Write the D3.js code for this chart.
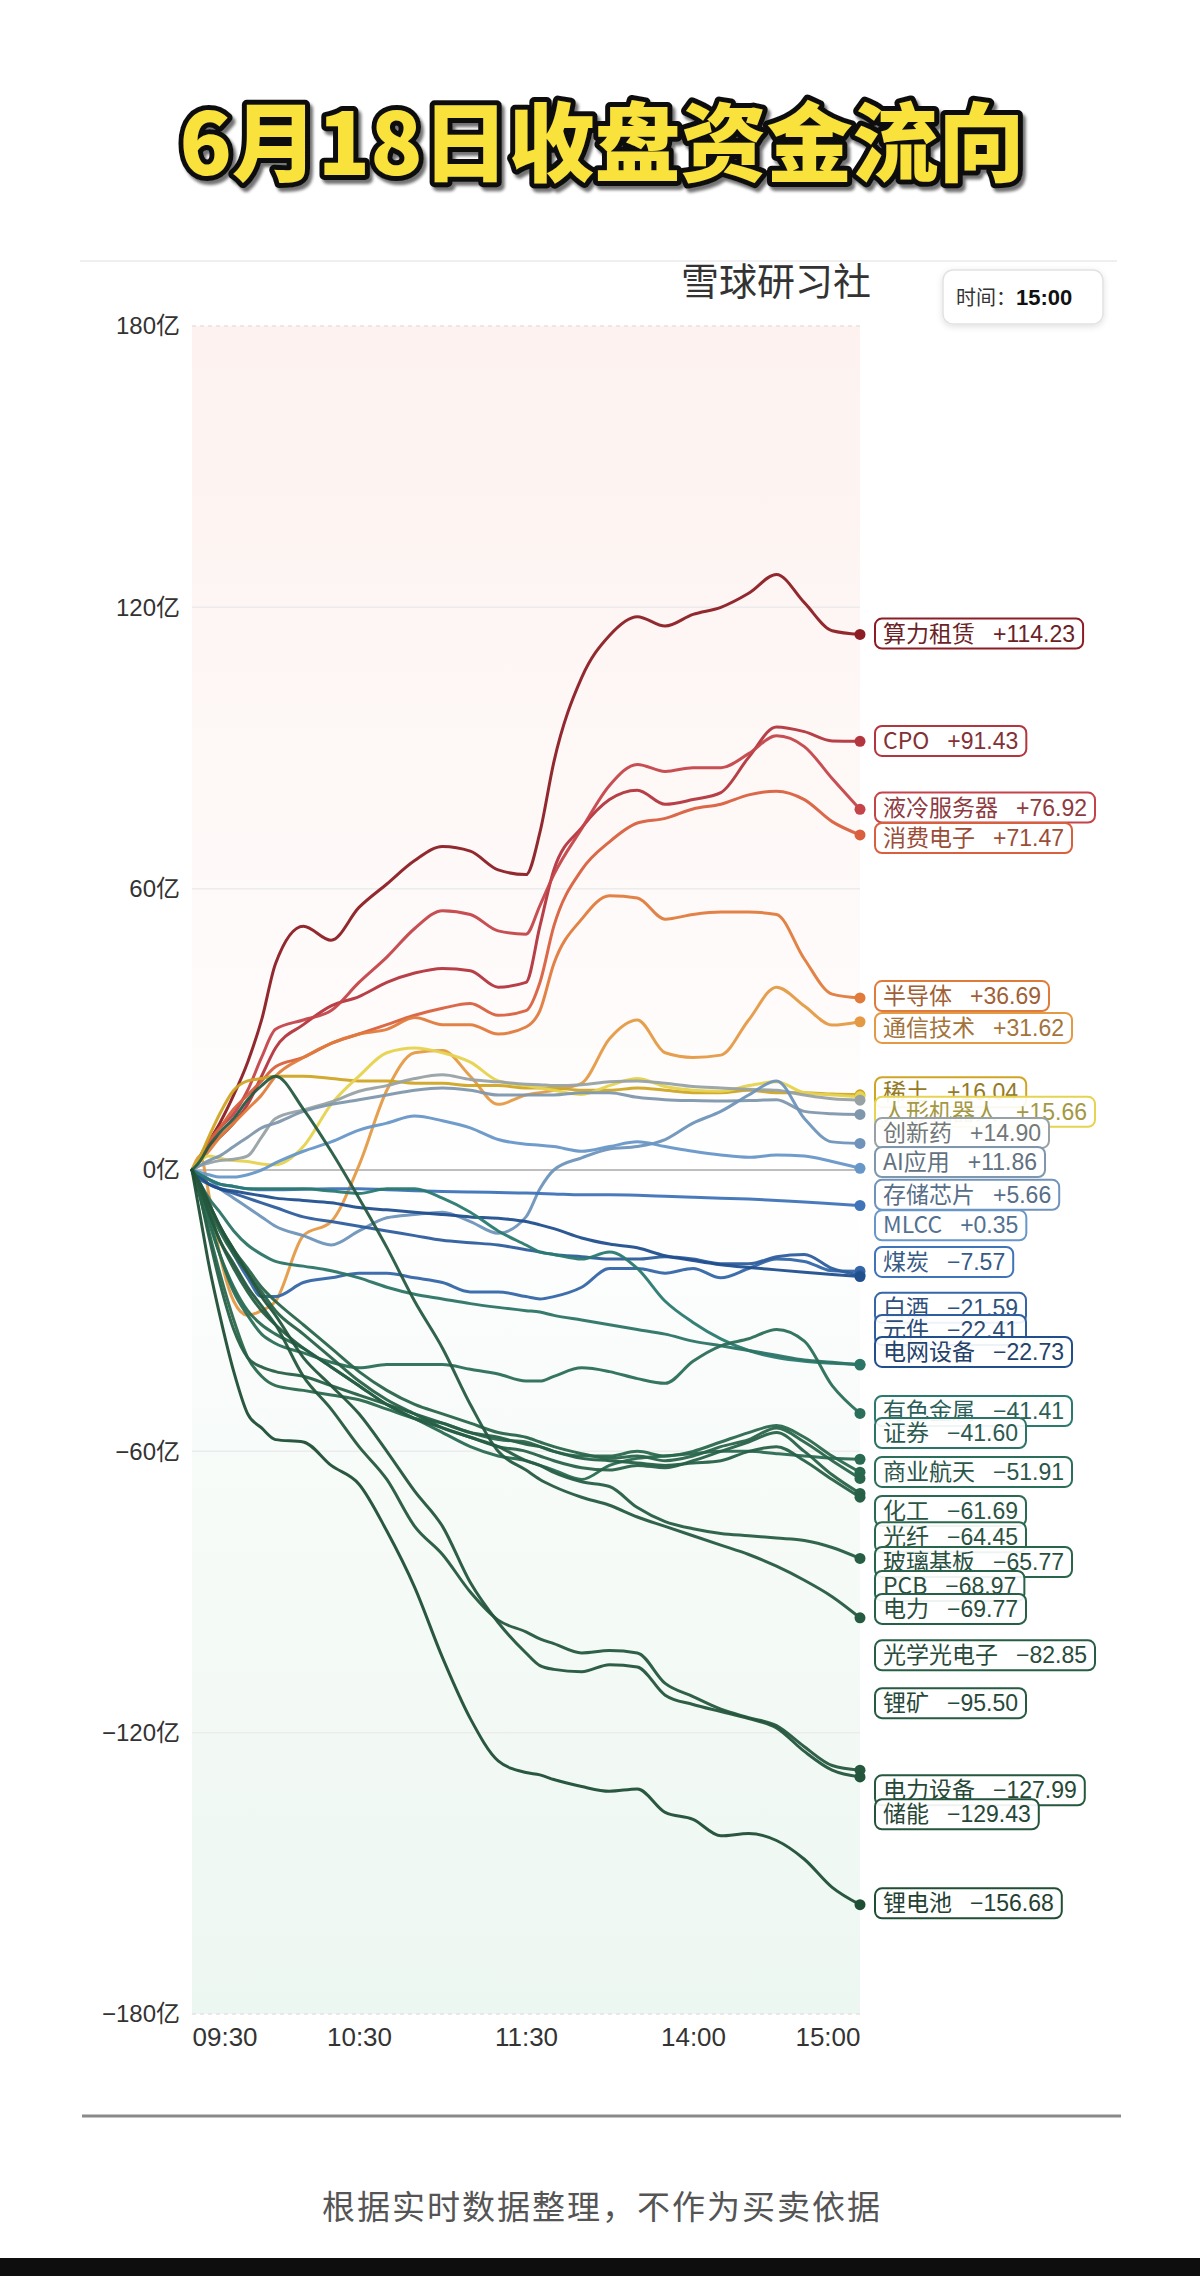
<!DOCTYPE html>
<html><head><meta charset="utf-8">
<script src="https://cdn.jsdelivr.net/npm/d3@7"></script>
<style>body{margin:0;background:#fff}svg{display:block}</style>
</head><body>
<svg id="c" width="1200" height="2276"></svg>
<script>
// ---------- data ----------
const times = [0,3,6,10,15,20,25,30,40,50,60,70,80,90,100,110,120,125,130,140,150,160,170,180,190,200,210,220,230,240]; // minutes of trading since 09:30
const xTickValues = [0,60,120,180,240];
const xTickLabels = ["09:30","10:30","11:30","14:00","15:00"];
const yTickValues = [-180,-120,-60,0,60,120,180];

const sectorNames = ["算力租赁","CPO","液冷服务器","消费电子","半导体","通信技术","稀土","人形机器人","创新药","AI应用","存储芯片","MLCC","煤炭","白酒","元件","电网设备","有色金属","证券","商业航天","化工","光纤","玻璃基板","PCB","电力","光学光电子","锂矿","电力设备","储能","锂电池"];

const vSuanli   = [0,3,6,10,16,23,32,44,52,49,56,61,66,69,68,64,63,72,87,105,114,118,116,118.5,120,123,127,121,115,114.23];
const vCpo      = [0,2,5,7,10,14,20,26,31,35,37,40,42,43,42.5,39,40,52,64,73,79,81,78,79,80.5,88,94.5,93.5,91.5,91.43];
const vYeleng   = [0,3,6,9,12,17,24,30,32,34,40,45.4,51.5,55.3,54.5,51,50.3,56.4,63,72.8,82,86.5,85,85.8,85.8,88.8,92.6,90.3,83.5,76.92];
const vXiaofei  = [0,3,6,9,13,16,19,22,24,27,29,31,33,34.5,35.5,33,34,40,52,64,70,74,75,77,78,80,80.8,79,74.3,71.47];
const vBandaoti = [0,2,4,7,10,13,16,20,24,27,29,30,32.5,31,31,29,30.5,34,44,53.5,58.5,58,53.5,54.5,55,55,54.5,45,37.5,36.69];
const vTongxin  = [0,3,-5,-18,-28,-31,-30,-28,-14,-11,1,17,25,25.5,20,14,16,16.5,17,18.5,28,32,25,24,24.5,32,39,35,30.9,31.62];
const vXitu     = [0,3,7,12,17,19,19.5,20,20,19.5,19,19,18.5,18.5,18,18,17.5,17.5,17.5,17,17,17.5,17,16.5,16.5,17,16.5,16.5,16.2,16.04];
const vRenxing  = [0,2,3,2.5,2,1.8,1.3,1.1,5,14,20,25,26,25,23,19,18,17.5,17,16.1,18,19.5,17.8,17,16.8,18,18.8,16.5,16,15.66];
const vChuangxin= [0,1,1.5,2,2.3,3,7,11,12.8,14.5,16.8,18,19.5,20.3,19.3,18.8,18.3,18.2,18,18.2,18.8,19,18.5,17.8,17.5,17.2,17,16,15.2,14.9];
const vAi       = [0,1,2,3,5,7,9,10,12.5,14,15,16,17,17.5,17,16,16,16,16,16.5,16.5,15.5,15,14.8,14.7,14.8,15,12.5,12,11.86];
const vCunchu   = [0,-1,-2,-4,-6,-8,-10,-12,-14,-16,-13,-10.2,-9.5,-9,-11,-13.5,-10,-4,0,2.6,4.5,5,6.5,10,12.5,16,19,11,6,5.66];
const vMlcc     = [0,-0.5,-1,-1.5,-1.5,-1,0,1.5,4,6,8.5,10,11.5,10.5,9,6.5,5.5,5.3,5,4,5,6,5,4,3.2,2.7,3.2,3,1.8,0.35];
const vMeitan   = [0,-1,-2,-3,-3.5,-4,-4.2,-4.2,-4.1,-4,-4,-4.2,-4.4,-4.6,-4.7,-4.8,-4.9,-5,-5.1,-5.3,-5.3,-5.4,-5.6,-5.8,-6,-6.2,-6.5,-6.8,-7.2,-7.57];
const vBaijiu   = [0,-3,-7,-12,-18,-23,-27,-27,-24,-23,-22,-22,-23,-24,-26,-26,-27,-27.5,-27,-25,-21,-21,-22,-21,-23,-21,-19,-19.5,-21.5,-21.59];
const vYuanjian = [0,-2,-3,-4,-5,-6,-7,-8,-10,-11,-12,-13,-14,-15,-15.5,-16,-17,-17.5,-18,-18.5,-19,-19,-18.5,-19,-20,-20,-18.5,-18,-21,-22.41];
const vDianwang = [0,-1.5,-3,-4,-4.5,-5,-5.5,-6,-6.5,-7,-8,-8.5,-9,-9.5,-10,-10.3,-11,-11.7,-12.5,-14.5,-15.8,-16.6,-18.3,-19.3,-20.2,-20.8,-21.3,-21.8,-22.3,-22.73];
const vYouse    = [0,-1,-2,-3,-3.5,-4,-4,-4,-4,-4.5,-5,-4,-4,-6,-9,-13,-16,-17.5,-18,-19,-17.5,-21,-28,-32.5,-36,-38.5,-40,-40.8,-41.2,-41.41];
const vZhengquan= [0,-3,-6,-9,-13,-16,-18,-19.5,-20.5,-21.5,-23,-25,-26.5,-27.5,-28.5,-29.3,-30,-30.3,-31,-32,-33,-34,-35,-36.5,-37.5,-38.5,-39.5,-40.5,-41,-41.6];
const vShangye  = [0,-4,-10,-18,-26,-31,-35,-37,-39,-41,-42.2,-41.5,-41.5,-41.5,-42.5,-43.5,-45,-45,-44,-42.2,-43,-44.5,-45.5,-40.8,-37.5,-36,-34,-36.5,-46,-51.91];
const vHuagong  = [0,-5,-11,-18,-25,-30,-33,-35,-38,-42,-46,-50,-53,-56,-59,-61,-62,-63,-64,-66,-63,-61.5,-61,-60.5,-60,-60,-60.5,-61,-61.5,-61.69];
const vGuangxian= [0,-6,-13,-22,-32,-40,-44,-46,-47,-48,-49,-51,-53,-54,-56,-57.5,-58,-59,-60,-61,-61,-60,-61,-60,-58,-56,-54.5,-57,-61,-64.45];
const vBoli     = [0,-3,-7,-12,-17,-21,-25,-28,-33,-38,-43,-47,-50,-52,-54,-56,-57,-58,-59,-60.5,-61.5,-61,-62,-61,-59,-57.5,-55,-58,-62,-65.77];
const vPcb      = [0,-4,-8,-13,-18,-22,-26,-30,-35,-40,-45,-49,-52,-55,-57,-59,-60,-61,-62,-63.5,-64,-63,-63.5,-62,-60,-58,-56,-60,-65,-68.97];
const vDianli   = [0,-6,-14,-24,-34,-40,-42,-43,-44,-46,-48,-50,-52,-54,-56,-57,-58.5,-59,-60,-61.5,-62,-62.5,-63,-62.5,-62,-60,-59,-62,-66,-69.77];
const vGuangxue = [0,-4,-9,-15,-21,-26,-30,-33,-38,-42,-46,-50,-53,-55,-57,-59,-62,-63,-64.5,-66.5,-67.5,-72,-75,-76.5,-77.5,-78,-78.5,-79,-80.5,-82.85];
const vLikuang  = [0,2,5,8,11,15,18,20,13,4,-6,-16.5,-28,-38,-50,-60,-64,-66,-67.5,-69.8,-71.5,-74,-76,-78,-80,-82,-84.5,-87.5,-91,-95.5];
const vDianlisb = [0,-4,-9,-15,-20,-25,-29,-33,-44,-51,-59,-66,-76,-82,-90,-96,-98.5,-100,-101,-103,-102.5,-103,-109.5,-112.3,-115,-116.8,-118.5,-123,-127,-127.99];
const vChuneng  = [0,-3,-7,-12,-17,-22,-27,-31,-40,-46,-52,-60,-68.5,-76,-88,-96.5,-103,-105.7,-106.5,-107,-105.5,-106,-112,-114,-115.5,-117,-119,-124,-128,-129.43];
const vLidian   = [0,-10,-20,-31,-43,-52,-55,-57.5,-58,-63,-67,-77,-89,-104,-117,-126,-128.5,-129,-130,-131.5,-132.5,-132,-137,-138.5,-142,-141.5,-143,-147,-153,-156.68];

const sectorValues = [vSuanli,vCpo,vYeleng,vXiaofei,vBandaoti,vTongxin,vXitu,vRenxing,vChuangxin,vAi,vCunchu,vMlcc,vMeitan,vBaijiu,vYuanjian,vDianwang,vYouse,vZhengquan,vShangye,vHuagong,vGuangxian,vBoli,vPcb,vDianli,vGuangxue,vLikuang,vDianlisb,vChuneng,vLidian];

// value (亿) at which each end label is centred after de-overlapping
const labelAt = [114.4,91.5,77.3,70.8,37.1,30.3,16.6,12.4,7.9,1.7,-5.3,-11.8,-19.6,-29.4,-34.1,-38.8,-51.4,-56.1,-64.4,-72.7,-78.3,-83.6,-88.7,-93.6,-103.5,-113.7,-132.3,-137.4,-156.4];

const sectorColors = ["#8c1d24","#b3353d","#c4444a","#d8603f","#e07b3c","#e49a45","#cfa524","#e6d34f","#98a2a4","#7f97ad","#6f93bb","#6797c8","#3f74b8","#3566a8","#2e5e9e","#214f8e","#2b7a70","#2c7466","#2b6e5a","#2a6a52","#2a684e","#29654b","#286248","#286047","#275d44","#265a41","#25583e","#24553c","#1f4e35"];

// ---------- drawing ----------
const W = 1200, H = 2276;
const svg = d3.select("#c");
const latin = "'Liberation Sans','Noto Sans CJK SC',sans-serif";
const cjk = "'Noto Sans CJK SC','Liberation Sans',sans-serif";

svg.append("rect").attr("width",W).attr("height",H).attr("fill","#fff");

const x = d3.scaleLinear().domain([0,240]).range([192,860]);
const y = d3.scaleLinear().domain([-180,180]).range([2014,326]);

const defs = svg.append("defs");
const grad = defs.append("linearGradient").attr("id","bg").attr("x1",0).attr("y1",0).attr("x2",0).attr("y2",1);
[["0%","#fdf2ef"],["40%","#fefbfa"],["50%","#ffffff"],["62%","#f9fcfa"],["100%","#edf7f1"]].forEach(s=>grad.append("stop").attr("offset",s[0]).attr("stop-color",s[1]));
const sh = defs.append("filter").attr("id","sh").attr("x","-20%").attr("y","-20%").attr("width","140%").attr("height","160%");
sh.append("feDropShadow").attr("dx",0).attr("dy",2).attr("stdDeviation",3).attr("flood-color","#000").attr("flood-opacity",0.12);
const tsh = defs.append("filter").attr("id","tsh").attr("x","-5%").attr("y","-20%").attr("width","110%").attr("height","150%");
tsh.append("feDropShadow").attr("dx",3).attr("dy",4).attr("stdDeviation",1.5).attr("flood-color","#000").attr("flood-opacity",0.55);

// title
svg.append("text").attr("x",602).attr("y",137).attr("text-anchor","middle").attr("dominant-baseline","central")
  .style("font-family",cjk).style("font-size","86px").style("font-weight",900)
  .attr("fill","#f8e23a").attr("stroke","#111").attr("stroke-width",10).attr("stroke-linejoin","round")
  .attr("paint-order","stroke").attr("filter","url(#tsh)").text("6月18日收盘资金流向");

// header line and brand
svg.append("line").attr("x1",80).attr("x2",1117).attr("y1",261).attr("y2",261).attr("stroke","#efefef").attr("stroke-width",2);
svg.append("text").attr("x",871).attr("y",295).attr("text-anchor","end").style("font-family",cjk).style("font-size","38px").attr("fill","#333").text("雪球研习社");
svg.append("rect").attr("x",943).attr("y",270).attr("width",160).attr("height",54).attr("rx",10)
  .attr("fill","#fff").attr("stroke","#e2e2e2").attr("stroke-width",1.5).attr("filter","url(#sh)");
const tt = svg.append("text").attr("x",956).attr("y",305).style("font-family",cjk).attr("fill","#333");
tt.append("tspan").style("font-size","20px").text("时间：");
tt.append("tspan").style("font-size","22px").style("font-weight",700).attr("fill","#111").style("font-family",latin).text("15:00");

// plot background
svg.append("rect").attr("x",x(0)).attr("y",y(180)).attr("width",x(240)-x(0)).attr("height",y(-180)-y(180)).attr("fill","url(#bg)");

// grid
yTickValues.forEach(v=>{
  const l = svg.append("line").attr("x1",x(0)).attr("x2",x(240)).attr("y1",y(v)).attr("y2",y(v));
  if (v===0) l.attr("stroke","#a8a8a8").attr("stroke-width",1.5);
  else if (Math.abs(v)===180) l.attr("stroke","#e4e4e4").attr("stroke-width",1.5).attr("stroke-dasharray","4,4");
  else l.attr("stroke","#ececec").attr("stroke-width",1.5);
});

// y axis
const yAxis = svg.append("g").attr("transform",`translate(${x(0)},0)`)
  .call(d3.axisLeft(y).tickValues(yTickValues).tickSize(0).tickPadding(12).tickFormat(d=>(d<0?"−":"")+Math.abs(d)+"亿"));
yAxis.select(".domain").remove();
yAxis.selectAll("text").style("font-family",latin).style("font-size","24px").attr("fill","#333");

// x axis
const xAxis = svg.append("g").attr("transform",`translate(0,${y(-180)})`)
  .call(d3.axisBottom(x).tickValues(xTickValues).tickSize(0).tickPadding(14).tickFormat((d,i)=>xTickLabels[i]));
xAxis.select(".domain").remove();
xAxis.selectAll("text").style("font-family",latin).style("font-size","26px").attr("fill","#333")
  .attr("text-anchor",(d,i)=> i===0 ? "start" : (i===xTickValues.length-1 ? "end" : "middle"));

// lines
const line = d3.line().x((d,i)=>x(times[i])).y(d=>y(d)).curve(d3.curveMonotoneX);
const gl = svg.append("g");
sectorValues.forEach((vals,i)=>{
  gl.append("path").attr("d",line(vals)).attr("fill","none").attr("stroke",sectorColors[i])
    .attr("stroke-width",3).attr("stroke-linejoin","round").attr("stroke-linecap","round").attr("opacity",0.95);
});
sectorValues.forEach((vals,i)=>{
  gl.append("circle").attr("cx",x(times[times.length-1])).attr("cy",y(vals[vals.length-1])).attr("r",5.5).attr("fill",sectorColors[i]);
});

// end labels
const fmt = v => (v>=0?"+":"−")+Math.abs(v).toFixed(2);
const gLab = svg.append("g");
sectorNames.forEach((n,i)=>{
  const vals = sectorValues[i];
  const c = sectorColors[i];
  const g = gLab.append("g").attr("transform",`translate(875,${y(labelAt[i])})`);
  const r = g.append("rect").attr("x",0).attr("y",-15).attr("height",30).attr("rx",7)
    .attr("fill","#fff").attr("fill-opacity",0.92).attr("stroke",c).attr("stroke-width",2);
  const t = g.append("text").attr("x",8).attr("y",8).style("font-family",latin).style("font-size","23px")
    .attr("fill",d3.interpolateRgb(c,"#2a2a2a")(0.35));
  t.append("tspan").style("font-family",cjk).text(n);
  t.append("tspan").attr("dx",18).text(fmt(vals[vals.length-1]));
  const bb = t.node().getBBox();
  r.attr("width",bb.width+16);
});

// footer
svg.append("line").attr("x1",82).attr("x2",1121).attr("y1",2116).attr("y2",2116).attr("stroke","#8a8a8a").attr("stroke-width",3);
svg.append("text").attr("x",602).attr("y",2219).attr("text-anchor","middle").style("font-family",cjk).style("font-size","33px")
  .attr("fill","#555").attr("letter-spacing","2px").text("根据实时数据整理，不作为买卖依据");
svg.append("rect").attr("x",0).attr("y",2258).attr("width",W).attr("height",18).attr("fill","#0e0e0e");
</script>
</body></html>
